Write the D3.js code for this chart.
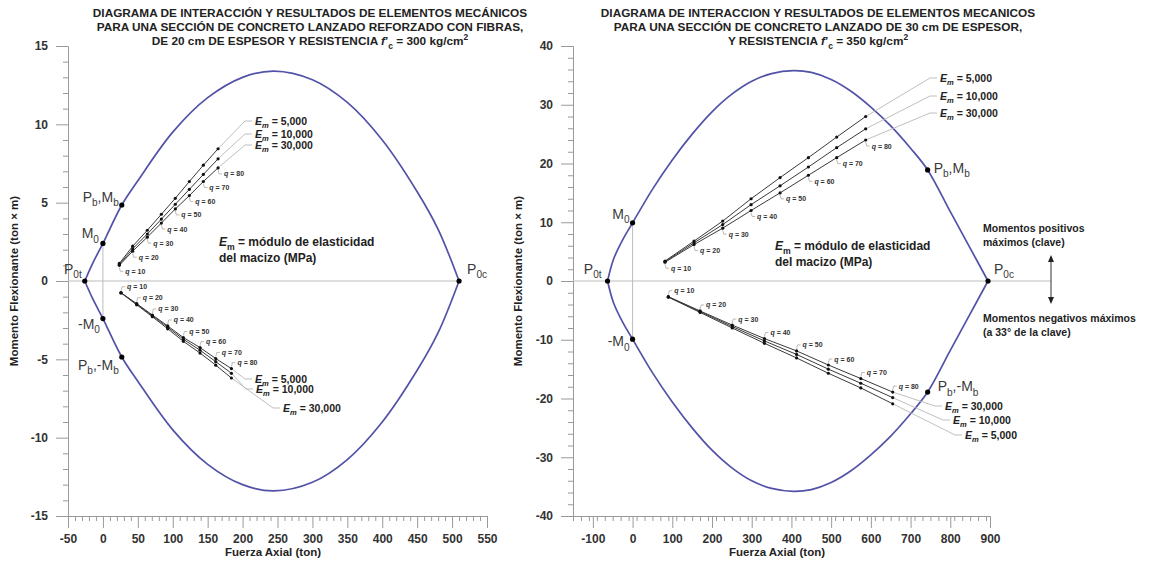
<!DOCTYPE html>
<html>
<head>
<meta charset="utf-8">
<script src="https://cdn.jsdelivr.net/npm/d3@7"></script>
<style>
  body { margin: 0; background: #fff; }
  svg { font-family: "Liberation Sans", Arial, sans-serif; }
  .axis path, .axis line { stroke: #9a9a9a; }
  .axis text { fill: #333; font-weight: bold; font-size: 12px; }
</style>
</head>
<body>
<script>
// ---- data ----
const qValues = [10, 20, 30, 40, 50, 60, 70, 80];
const emNames = ['5,000', '10,000', '30,000'];

// left panel: 20 cm, f'c = 300
const leftXTicks = [-50, 0, 50, 100, 150, 200, 250, 300, 350, 400, 450, 500, 550];
const leftYTicks = [-15, -10, -5, 0, 5, 10, 15];
const leftEnvTop = [[-26, 0], [-15, 1.1], [0, 2.4], [27, 4.85], [50, 6.4], [100, 9.5], [150, 11.7],
  [200, 13.0], [245, 13.4], [300, 12.85], [350, 11.4], [400, 9.0], [450, 5.7], [480, 3.3], [510, 0]];
const leftEnvBottom = [[-26, 0], [-15, -1.1], [0, -2.4], [27, -4.85], [50, -6.4], [100, -9.5], [150, -11.7],
  [200, -13.0], [245, -13.4], [300, -12.85], [350, -11.4], [400, -9.0], [450, -5.7], [480, -3.3], [510, 0]];
const leftPoints = { P0t: [-26, 0], M0: [0, 2.4], negM0: [0, -2.4], Pb: [27, 4.85], negPb: [27, -4.85], P0c: [510, 0] };
const leftPosP = [23.5, 42.6, 63.6, 83.7, 103.7, 123.8, 143.8, 164.9];
const leftPosM5000 = [1.12, 2.22, 3.24, 4.26, 5.28, 6.35, 7.39, 8.44];
const leftPosM10000 = [1.05, 2.05, 3.0, 3.95, 4.9, 5.85, 6.8, 7.8];
const leftPosM30000 = [1.0, 1.9, 2.8, 3.7, 4.6, 5.45, 6.35, 7.22];
const leftNegP = [25.9, 48.4, 70.8, 92.8, 115.2, 139.1, 161.6, 184];
const leftNegM5000 = [-0.75, -1.45, -2.17, -2.87, -3.61, -4.25, -4.95, -5.59];
const leftNegM10000 = [-0.75, -1.48, -2.22, -2.95, -3.72, -4.42, -5.15, -5.89];
const leftNegM30000 = [-0.76, -1.52, -2.28, -3.05, -3.85, -4.6, -5.37, -6.19];

// right panel: 30 cm, f'c = 350
const rightXTicks = [-100, 0, 100, 200, 300, 400, 500, 600, 700, 800, 900];
const rightYTicks = [-40, -30, -20, -10, 0, 10, 20, 30, 40];
const rightEnvTop = [[-63, 0], [-48, 3.7], [-25, 7.0], [0, 9.9], [50, 15.6], [100, 20.6], [150, 25.0],
  [200, 28.8], [250, 31.8], [300, 34.0], [350, 35.3], [405, 35.8], [450, 35.5], [500, 34.3], [550, 32.3],
  [600, 29.6], [650, 26.4], [700, 22.6], [743, 18.9], [800, 11.8], [850, 5.6], [895, 0]];
const rightEnvBottom = [[-63, 0], [-48, -3.7], [-25, -7.0], [0, -9.9], [50, -15.6], [100, -20.6], [150, -25.0],
  [200, -28.8], [250, -31.8], [300, -34.0], [350, -35.3], [405, -35.8], [450, -35.5], [500, -34.3], [550, -32.3],
  [600, -29.6], [650, -26.4], [700, -22.6], [743, -18.9], [800, -11.8], [850, -5.6], [895, 0]];
const rightPoints = { P0t: [-63, 0], M0: [0, 9.9], negM0: [0, -9.9], Pb: [743, 18.9], negPb: [743, -18.9], P0c: [895, 0] };
const rightPosP = [81.7, 154.8, 227, 298.4, 371.4, 442.7, 514, 587];
const rightPosM5000 = [3.4, 6.8, 10.2, 14.0, 17.6, 21.0, 24.5, 28.0];
const rightPosM10000 = [3.3, 6.5, 9.6, 13.0, 16.2, 19.4, 22.7, 25.9];
const rightPosM30000 = [3.2, 6.2, 9.0, 12.0, 15.0, 18.0, 21.0, 24.0];
const rightNegP = [90, 170, 251, 332, 413, 493, 574.7, 655];
const rightNegM30000 = [-2.66, -5.1, -7.5, -9.8, -11.9, -14.3, -16.6, -18.9];
const rightNegM10000 = [-2.7, -5.2, -7.75, -10.2, -12.5, -15.0, -17.4, -19.85];
const rightNegM5000 = [-2.75, -5.35, -8.0, -10.6, -13.1, -15.7, -18.2, -20.9];

// ---- drawing ----
const W = 1160, H = 566;
const svg = d3.select('body').append('svg').attr('width', W).attr('height', H);
svg.append('rect').attr('width', W).attr('height', H).attr('fill', '#fff');

// text with italic / sub / sup pieces
function rich(g, x, y, parts, size, weight, anchor, fill) {
  const t = g.append('text').attr('x', x).attr('y', y)
    .attr('font-size', size).attr('font-weight', weight || 'normal')
    .attr('text-anchor', anchor || 'start').attr('fill', fill || '#222');
  let shift = 0;
  parts.forEach(p => {
    const s = typeof p === 'string' ? p : p[0];
    const k = (typeof p !== 'string' && p[1]) ? p[1].split(' ') : [];
    const ts = t.append('tspan').text(s);
    let target = 0;
    if (k.includes('sub')) target = size * 0.32;
    if (k.includes('sup')) target = -size * 0.42;
    if (target - shift !== 0) ts.attr('dy', target - shift);
    shift = target;
    if (k.includes('sub') || k.includes('sup')) ts.attr('font-size', size * 0.72);
    if (k.includes('it')) ts.attr('font-style', 'italic');
  });
  return t;
}

function drawPanel(p) {
  const g = svg.append('g');
  const x = d3.scaleLinear().domain(p.xDomain).range(p.xRange);
  const y = d3.scaleLinear().domain(p.yDomain).range([516, 46]);

  // titles
  p.title.forEach((line, i) => rich(g, p.titleX, 17 + i * 14, line, 11.8, 'bold', 'middle', '#222'));

  // axes
  const xMinor = d3.range(p.xDomain[0], p.xDomain[1] + 0.1, p.xMinorStep).filter(v => !p.xTicks.includes(v));
  const yMinor = d3.range(p.yDomain[0], p.yDomain[1] + 0.1, p.yMinorStep).filter(v => !p.yTicks.includes(v));
  g.append('g').attr('class', 'axis').attr('transform', 'translate(0,516)')
    .call(d3.axisBottom(x).tickValues(xMinor).tickSize(5).tickSizeOuter(0).tickFormat(''));
  g.append('g').attr('class', 'axis').attr('transform', 'translate(0,516)')
    .call(d3.axisBottom(x).tickValues(p.xTicks).tickSize(12).tickSizeOuter(0).tickPadding(6).tickFormat(d => String(d)));
  g.append('g').attr('class', 'axis').attr('transform', 'translate(' + p.xRange[0] + ',0)')
    .call(d3.axisLeft(y).tickValues(yMinor).tickSize(5).tickSizeOuter(0).tickFormat(''));
  g.append('g').attr('class', 'axis').attr('transform', 'translate(' + p.xRange[0] + ',0)')
    .call(d3.axisLeft(y).tickValues(p.yTicks).tickSize(12).tickSizeOuter(0).tickPadding(8).tickFormat(d => String(d)));

  g.append('text').attr('x', p.xTitleX).attr('y', 556).attr('text-anchor', 'middle')
    .attr('font-size', 11.5).attr('font-weight', 'bold').attr('fill', '#222').text('Fuerza Axial (ton)');
  g.append('text').attr('transform', 'translate(' + p.yTitleX + ',281) rotate(-90)').attr('text-anchor', 'middle')
    .attr('font-size', 11.5).attr('font-weight', 'bold').attr('fill', '#222').text('Momento Flexionante (ton × m)');

  // reference lines
  g.append('line').attr('x1', p.xRange[0]).attr('x2', p.zeroLineEnd).attr('y1', y(0)).attr('y2', y(0))
    .attr('stroke', '#bdbdbd').attr('stroke-width', 1);
  g.append('line').attr('x1', x(0)).attr('x2', x(0)).attr('y1', y(p.pts.M0[1])).attr('y2', y(p.pts.negM0[1]))
    .attr('stroke', '#bdbdbd').attr('stroke-width', 1);

  // envelope
  const env = d3.line().x(d => x(d[0])).y(d => y(d[1])).curve(d3.curveCatmullRom.alpha(0.5));
  [p.envTop, p.envBottom].forEach(e => g.append('path').attr('d', env(e))
    .attr('fill', 'none').attr('stroke', '#5252a8').attr('stroke-width', 1.7));

  // result lines
  const lin = d3.line().x(d => x(d[0])).y(d => y(d[1]));
  const lead = d3.line();
  [p.pos, p.neg].forEach(set => {
    set.series.forEach((ms, si) => {
      const pts = set.P.map((v, i) => [v, ms[i]]);
      g.append('path').attr('d', lin(pts)).attr('fill', 'none').attr('stroke', '#3a3a3a').attr('stroke-width', 1);
      // Em leader + label
      const end = [x(pts[pts.length - 1][0]), y(pts[pts.length - 1][1])];
      const L = set.em[si];
      g.append('path').attr('d', lead([end, [L[0] - 10, L[1]], [L[0] - 3, L[1]]]))
        .attr('fill', 'none').attr('stroke', '#b8b8b8').attr('stroke-width', 0.9);
      rich(g, L[0], L[1] + 3.5, [['E', 'it'], ['m', 'sub it'], ' = ' + set.names[si]], 10.5, 'bold', 'start', '#222');
    });
    set.series.forEach(ms => {
      set.P.forEach((v, i) => g.append('circle').attr('cx', x(v)).attr('cy', y(ms[i])).attr('r', 1.6).attr('fill', '#111'));
    });
    // q labels along the outer line
    const outer = set.series[set.qSeries];
    qValues.forEach((q, i) => {
      const dx = x(set.P[i]), dy = y(outer[i]);
      const s = set.qSide;
      g.append('path').attr('d', lead([[dx, dy + 2 * s], [dx + 1, dy + 6 * s], [dx + 4, dy + 6 * s]]))
        .attr('fill', 'none').attr('stroke', '#aaa').attr('stroke-width', 0.8);
      rich(g, dx + 6, dy + 6 * s + 2.5, [['q', 'it'], ' = ' + q], 7, 'bold', 'start', '#333');
    });
  });

  // key points
  const P = p.pts;
  [P.P0t, P.M0, P.negM0, P.Pb, P.negPb, P.P0c].forEach(d =>
    g.append('circle').attr('cx', x(d[0])).attr('cy', y(d[1])).attr('r', 2.6).attr('fill', '#000'));
  p.keyLabels.forEach(k => {
    const d = P[k.pt];
    rich(g, x(d[0]) + k.dx, y(d[1]) + k.dy, k.parts, 14, 'normal', k.anchor, '#3a3a3a');
  });

  // modulus note
  rich(g, p.noteX, p.noteY, [['E', 'it'], ['m', 'sub'], ' = módulo de elasticidad'], 12, 'bold', 'start', '#222');
  rich(g, p.noteX, p.noteY + 16, ['del macizo (MPa)'], 12, 'bold', 'start', '#222');
  return { g, x, y };
}

drawPanel({
  xDomain: [-50, 550], xRange: [68, 487], yDomain: [-15, 15],
  xTicks: leftXTicks, yTicks: leftYTicks, xMinorStep: 10, yMinorStep: 1,
  titleX: 310, xTitleX: 273, yTitleX: 18, zeroLineEnd: 458,
  title: [
    ['DIAGRAMA DE INTERACCIÓN Y RESULTADOS DE ELEMENTOS MECÁNICOS'],
    ['PARA UNA SECCIÓN DE CONCRETO LANZADO REFORZADO CON FIBRAS,'],
    ['DE 20 cm DE ESPESOR Y RESISTENCIA ', ['f', 'it'], ['\u2019'], ['c', 'sub'], ' = 300 kg/cm', ['2', 'sup']]
  ],
  envTop: leftEnvTop, envBottom: leftEnvBottom, pts: leftPoints,
  pos: { P: leftPosP, series: [leftPosM5000, leftPosM10000, leftPosM30000], names: emNames,
    em: [[255, 121], [255, 134], [255, 145]], qSeries: 2, qSide: 1 },
  neg: { P: leftNegP, series: [leftNegM5000, leftNegM10000, leftNegM30000], names: emNames,
    em: [[255, 379], [256, 389], [283, 408]], qSeries: 0, qSide: -1 },
  keyLabels: [
    { pt: 'Pb', dx: -3, dy: -3, anchor: 'end', parts: [['P'], ['b', 'sub'], [',M'], ['b', 'sub']] },
    { pt: 'M0', dx: -4, dy: -5, anchor: 'end', parts: [['M'], ['0', 'sub']] },
    { pt: 'P0t', dx: -3, dy: -7, anchor: 'end', parts: [['P'], ['0t', 'sub']] },
    { pt: 'negM0', dx: -3, dy: 10, anchor: 'end', parts: [['-M'], ['0', 'sub']] },
    { pt: 'negPb', dx: -3, dy: 13, anchor: 'end', parts: [['P'], ['b', 'sub'], [',-M'], ['b', 'sub']] },
    { pt: 'P0c', dx: 8, dy: -7, anchor: 'start', parts: [['P'], ['0c', 'sub']] }
  ],
  noteX: 219, noteY: 246
});

const right = drawPanel({
  xDomain: [-150, 900], xRange: [573, 990], yDomain: [-40, 40],
  xTicks: rightXTicks, yTicks: rightYTicks, xMinorStep: 20, yMinorStep: 2,
  titleX: 818, xTitleX: 777, yTitleX: 522, zeroLineEnd: 1051,
  title: [
    ['DIAGRAMA DE INTERACCION Y RESULTADOS DE ELEMENTOS MECANICOS'],
    ['PARA UNA SECCIÓN DE CONCRETO LANZADO DE 30 cm DE ESPESOR,'],
    ['Y RESISTENCIA ', ['f', 'it'], ['\u2019'], ['c', 'sub'], ' = 350 kg/cm', ['2', 'sup']]
  ],
  envTop: rightEnvTop, envBottom: rightEnvBottom, pts: rightPoints,
  pos: { P: rightPosP, series: [rightPosM5000, rightPosM10000, rightPosM30000], names: emNames,
    em: [[940, 78], [940, 96], [940, 113]], qSeries: 2, qSide: 1 },
  neg: { P: rightNegP, series: [rightNegM30000, rightNegM10000, rightNegM5000], names: ['30,000', '10,000', '5,000'],
    em: [[945, 406], [953, 420], [965, 435]], qSeries: 0, qSide: -1 },
  keyLabels: [
    { pt: 'Pb', dx: 6, dy: 3, anchor: 'start', parts: [['P'], ['b', 'sub'], [',M'], ['b', 'sub']] },
    { pt: 'M0', dx: -3, dy: -4, anchor: 'end', parts: [['M'], ['0', 'sub']] },
    { pt: 'P0t', dx: -6, dy: -7, anchor: 'end', parts: [['P'], ['0t', 'sub']] },
    { pt: 'negM0', dx: -3, dy: 7, anchor: 'end', parts: [['-M'], ['0', 'sub']] },
    { pt: 'negPb', dx: 10, dy: -1, anchor: 'start', parts: [['P'], ['b', 'sub'], [',-M'], ['b', 'sub']] },
    { pt: 'P0c', dx: 6, dy: -7, anchor: 'start', parts: [['P'], ['0c', 'sub']] }
  ],
  noteX: 775, noteY: 250
});

// direction note on the right
const ag = svg.append('g');
const ax = 1051, ay = right.y(0);
ag.append('line').attr('x1', ax).attr('x2', ax).attr('y1', ay - 20).attr('y2', ay + 17).attr('stroke', '#333').attr('stroke-width', 1);
ag.append('path').attr('d', d3.line()([[ax - 3, ay - 19], [ax, ay - 26], [ax + 3, ay - 19]])).attr('fill', '#222');
ag.append('path').attr('d', d3.line()([[ax - 3, ay + 16], [ax, ay + 23], [ax + 3, ay + 16]])).attr('fill', '#222');
rich(ag, 983, 232, ['Momentos positivos'], 10.5, 'bold', 'start', '#222');
rich(ag, 983, 246, ['máximos (clave)'], 10.5, 'bold', 'start', '#222');
rich(ag, 983, 322, ['Momentos negativos máximos'], 10.5, 'bold', 'start', '#222');
rich(ag, 983, 336, ['(a 33° de la clave)'], 10.5, 'bold', 'start', '#222');
</script>
</body>
</html>
